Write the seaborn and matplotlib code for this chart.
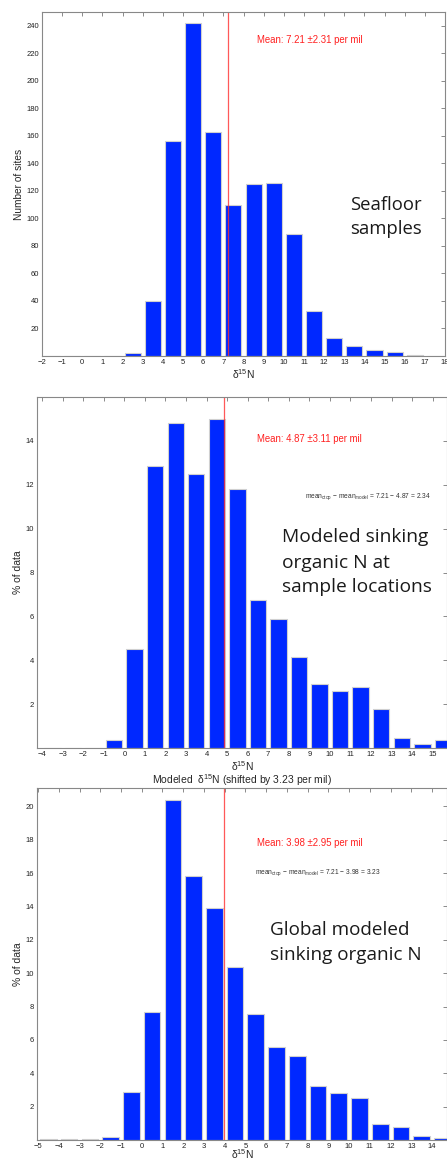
import numpy as np
import pandas as pd
import matplotlib
matplotlib.use("Agg")
import matplotlib.pyplot as plt
import seaborn as sns

# ---------------- data ----------------
top_centers = [2.5, 3.5, 4.5, 5.5, 6.5, 7.5, 8.5, 9.5, 10.5, 11.5, 12.5, 13.5, 14.5, 15.5, 16.5]
top_counts = [2, 40, 156, 242, 163, 110, 125, 126, 89, 33, 13, 7, 4, 3, 1]
top_mean = 7.21
top_mean_label = "Mean: 7.21 \u00b12.31 per mil"
top_xticks = list(range(-2, 19))
top_yticks = list(range(20, 241, 20))

mid_centers = [-0.5, 0.5, 1.5, 2.5, 3.5, 4.5, 5.5, 6.5, 7.5, 8.5, 9.5, 10.5, 11.5, 12.5, 13.5, 14.5, 15.5]
mid_pct = [0.38, 4.5, 12.85, 14.8, 12.47, 15.0, 11.82, 6.76, 5.9, 4.13, 2.9, 2.62, 2.8, 1.78, 0.47, 0.18, 0.37]
mid_mean = 4.87
mid_mean_label = "Mean: 4.87 \u00b13.11 per mil"
mid_diff_label = "mean$_{ctop}$ \u2212 mean$_{model}$ = 7.21 \u2212 4.87 = 2.34"
mid_xticks = list(range(-4, 16))
mid_yticks = list(range(2, 15, 2))

bot_centers = [-4.5, -3.5, -2.5, -1.5, -0.5, 0.5, 1.5, 2.5, 3.5, 4.5, 5.5, 6.5, 7.5, 8.5, 9.5, 10.5, 11.5, 12.5, 13.5, 14.5]
bot_pct = [0.03, 0.06, 0.06, 0.2, 2.86, 7.7, 20.4, 15.8, 13.9, 10.4, 7.56, 5.56, 5.04, 3.24, 2.8, 2.5, 0.98, 0.76, 0.26, 0.14]
bot_mean = 3.98
bot_mean_label = "Mean: 3.98 \u00b12.95 per mil"
bot_diff_label = "mean$_{ctop}$ \u2212 mean$_{model}$ = 7.21 \u2212 3.98 = 3.23"
bot_title = "Modeled  \u03b4$^{15}$N (shifted by 3.23 per mil)"
bot_xticks = list(range(-5, 15))
bot_yticks = list(range(2, 21, 2))

xlabel = "\u03b4$^{15}$N"

# ---------------- style ----------------
sns.set_style("white")
plt.rcParams['font.family'] = ['Liberation Sans', 'DejaVu Sans']
plt.rcParams['mathtext.default'] = 'regular'

W, H = 447, 1160
fig = plt.figure(figsize=(W / 100, H / 100), dpi=100)

BAR = '#0028ff'
EDGE = '#d0d0d0'
BIG = 'Open Sans'


def px_axes(l, t, r, b):
    return fig.add_axes([l / W, 1 - b / H, (r - l) / W, (b - t) / H])


def style(ax, xticks, yticks, xlim, ylim, xlabelpad=1):
    ax.set_xlim(*xlim)
    ax.set_ylim(*ylim)
    ax.set_xticks(xticks)
    ax.set_yticks(yticks)
    ax.tick_params(direction='in', top=True, right=True, length=3, width=0.6,
                   color='#777777', labelsize=5.5, pad=2, labelcolor='#222222')
    for s in ax.spines.values():
        s.set_color('#888888')
        s.set_linewidth(0.8)
    ax.set_xlabel(xlabel, fontsize=7.5, labelpad=xlabelpad)


def hist(ax, centers, vals, lo, hi):
    df = pd.DataFrame({"x": centers, "w": vals})
    sns.histplot(data=df, x="x", weights="w", binwidth=1, binrange=(lo, hi),
                 shrink=0.8, color=BAR, edgecolor=EDGE, linewidth=0.8, alpha=1, ax=ax)


def ftext(x, y, s, **kw):
    fig.text(x / W, 1 - y / H, s, **kw)


# ---- top ----
ax1 = px_axes(42, 12, 445, 356)
hist(ax1, top_centers, top_counts, -2, 18)
ax1.axvline(top_mean, color='#ff3030', lw=0.9, alpha=0.8)
style(ax1, top_xticks, top_yticks, (-2, 18), (0, 250))
ax1.set_ylabel("Number of sites", fontsize=7.3, labelpad=2)
ftext(257, 40, top_mean_label, color='#ff2020', fontsize=6.9, va='center')
ftext(350, 210, "Seafloor", fontsize=13.3, family=BIG, color='#1a1a1a', va='baseline')
ftext(350, 234, "samples", fontsize=13.3, family=BIG, color='#1a1a1a', va='baseline')

# ---- middle ----
ax2 = px_axes(37, 397, 447, 748)
hist(ax2, mid_centers, mid_pct, -4, 16)
ax2.axvline(mid_mean, color='#ff3030', lw=0.9, alpha=0.8)
style(ax2, mid_xticks, mid_yticks, (-4.25, 15.7), (0, 16))
ax2.set_ylabel("% of data", fontsize=7.5, labelpad=2)
ftext(257, 439, mid_mean_label, color='#ff2020', fontsize=6.9, va='center')
ftext(305, 497, mid_diff_label, color='#333333', fontsize=4.8, va='center')
ftext(282, 542.5, "Modeled sinking", fontsize=13.8, family=BIG, color='#1a1a1a', va='baseline')
ftext(282, 567.5, "organic N at", fontsize=13.8, family=BIG, color='#1a1a1a', va='baseline')
ftext(282, 592.5, "sample locations", fontsize=13.8, family=BIG, color='#1a1a1a', va='baseline')

# ---- bottom ----
ax3 = px_axes(37, 788, 447, 1140)
hist(ax3, bot_centers, bot_pct, -5, 15)
ax3.axvline(bot_mean, color='#ff3030', lw=0.9, alpha=0.8)
style(ax3, bot_xticks, bot_yticks, (-5.05, 14.72), (0, 21.1), xlabelpad=-1.5)
ax3.set_ylabel("% of data", fontsize=7.5, labelpad=2)
ax3.set_title(bot_title, fontsize=7.5, pad=3)
ftext(257, 843, bot_mean_label, color='#ff2020', fontsize=6.9, va='center')
ftext(255, 873, bot_diff_label, color='#333333', fontsize=4.8, va='center')
ftext(270, 935, "Global modeled", fontsize=13.6, family=BIG, color='#1a1a1a', va='baseline')
ftext(270, 960, "sinking organic N", fontsize=13.6, family=BIG, color='#1a1a1a', va='baseline')

fig.savefig("out.png", dpi=100)
